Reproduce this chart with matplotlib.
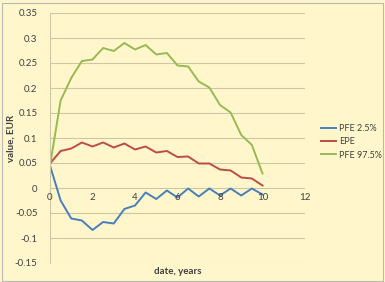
import matplotlib.pyplot as plt
import numpy as np

plt.rcParams['font.family'] = ['Lato', 'DejaVu Sans']

# data
dates = np.arange(0, 10.01, 0.5)
pfe_low = [0.045, -0.025, -0.061, -0.065, -0.084, -0.068, -0.071, -0.042, -0.035, -0.009,
           -0.022, -0.005, -0.019, -0.001, -0.017, -0.001, -0.015, -0.001, -0.015, -0.001, -0.013]
epe = [0.049, 0.074, 0.079, 0.091, 0.083, 0.091, 0.081, 0.089, 0.077, 0.083,
       0.071, 0.074, 0.062, 0.063, 0.049, 0.049, 0.037, 0.035, 0.021, 0.019, 0.005]
pfe_high = [0.045, 0.175, 0.22, 0.254, 0.257, 0.28, 0.274, 0.29, 0.277, 0.286,
            0.267, 0.27, 0.245, 0.243, 0.213, 0.201, 0.166, 0.151, 0.106, 0.086, 0.029]
xticks = [0, 2, 4, 6, 8, 10, 12]
yticks = [-0.15, -0.1, -0.05, 0, 0.05, 0.1, 0.15, 0.2, 0.25, 0.3, 0.35]
ylabels = ['-0.15', '-0.1', '-0.05', '0', '0.05', '0.1', '0.15', '0.2', '0.25', '0.3', '0.35']

bg = '#FFF7CB'
grid_c = '#CEC7A6'
txt_c = '#404040'

fig = plt.figure(figsize=(3.85, 2.82), dpi=100, facecolor=bg)
fig.patches.append(plt.Rectangle((0.004, 0.004), 0.992, 0.986, transform=fig.transFigure,
                                 fill=False, edgecolor='#B8B8B8', linewidth=0.8))
ax = fig.add_axes([50 / 385, 1 - 263 / 282, 255 / 385, 250 / 282])
ax.set_facecolor(bg)

ax.plot(dates, pfe_low, color='#4A7EBB', lw=1.4, label='PFE 2.5%')
ax.plot(dates, epe, color='#BE4B48', lw=1.4, label='EPE')
ax.plot(dates, pfe_high, color='#98B954', lw=1.4, label='PFE 97.5%')

ax.set_xlim(0, 12)
ax.set_ylim(-0.15, 0.35)
for y in yticks:
    ax.axhline(y, color=grid_c, lw=0.8, zorder=0)
for s in ['top', 'right', 'bottom']:
    ax.spines[s].set_visible(False)
ax.spines['left'].set_color(grid_c)
ax.spines['left'].set_linewidth(0.8)

ax.set_yticks(yticks)
ax.set_yticklabels(ylabels)
ax.tick_params(axis='y', length=0, pad=9, labelsize=7, labelcolor=txt_c)
ax.set_xticks([])
# x labels sit just under the zero line, like Excel does
for x in xticks:
    ax.text(x, -0.011, str(x), ha='center', va='top', fontsize=7, color=txt_c)

ax.set_xlabel('date, years', fontsize=7, fontweight='bold', color=txt_c, labelpad=3)
fig.text(11 / 385, 1 - 138 / 282, 'value, EUR', rotation=90, ha='center', va='center',
         fontsize=7, fontweight='bold', color=txt_c)

leg = fig.legend(loc='center left', bbox_to_anchor=(313 / 385, 1 - 142 / 282), frameon=False,
                 fontsize=6.5, handlelength=1.6, handletextpad=0.4, labelspacing=0.45)
for t in leg.get_texts():
    t.set_color(txt_c)

fig.savefig('out.png', dpi=100, facecolor=bg)
